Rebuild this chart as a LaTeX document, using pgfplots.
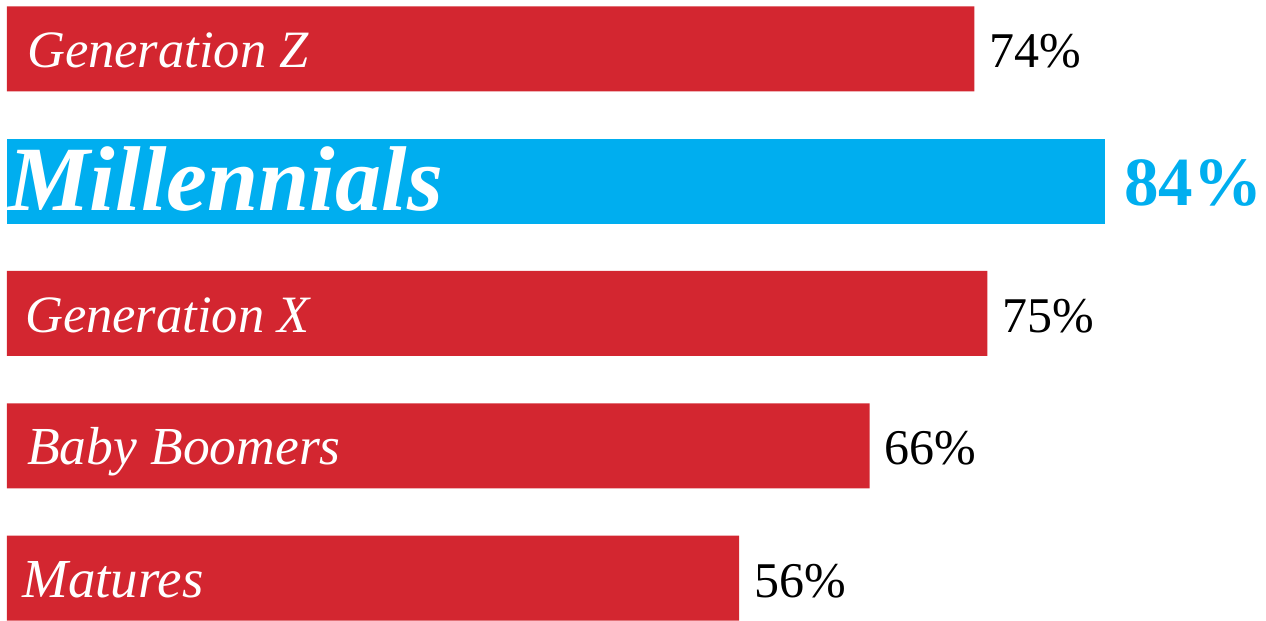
\documentclass[border=0pt]{standalone}
\usepackage{fontspec}
\setmainfont{Liberation Serif}
\usepackage{pgfplots}
\pgfplotsset{compat=1.18}
\definecolor{barred}{HTML}{D32630}
\definecolor{barblue}{HTML}{00AEEF}
\begin{document}
\begin{tikzpicture}
\begin{axis}[
  width=1266pt, height=619pt, scale only axis,
  xmin=-0.5355, xmax=96.317,
  ymin=-0.31, ymax=4.37,
  hide axis, clip=false,
  xbar, bar shift=0pt, bar width=85pt,
  /pgf/number format/assume math mode=true,
  nodes near coords={\pgfmathprintnumber{\pgfplotspointmeta}\%},
  point meta=x,
  every node near coord/.append style={anchor=base west, inner sep=0pt},
]
\path (rel axis cs:0,0) rectangle (rel axis cs:1,1);
\addplot[fill=barred, draw=none,
  every node near coord/.append style={text=black, font=\fontsize{50}{56}\selectfont, xshift=15pt, yshift=-19pt}]
  coordinates {(74,4) (75,2) (66,1) (56,0)};
\addplot[fill=barblue, draw=none,
  every node near coord/.append style={text=barblue, font=\fontsize{69}{76}\selectfont\bfseries, xshift=19pt, yshift=-24pt}]
  coordinates {(84,3)};
\begin{scope}[every node/.style={anchor=base west, inner sep=0pt, text=white}]
\node[font=\fontsize{52.5}{60}\selectfont\itshape, xshift=20pt, yshift=-19pt] at (axis cs:0,4) {Generation Z};
\node[font=\fontsize{92}{100}\selectfont\bfseries\itshape, xshift=1pt, yshift=-29pt] at (axis cs:0,3) {Millennials};
\node[font=\fontsize{52.5}{60}\selectfont\itshape, xshift=18pt, yshift=-19pt] at (axis cs:0,2) {Generation X};
\node[font=\fontsize{53.5}{60}\selectfont\itshape, xshift=20pt, yshift=-19pt] at (axis cs:0,1) {Baby Boomers};
\node[font=\fontsize{55}{60}\selectfont\itshape, xshift=15pt, yshift=-19pt] at (axis cs:0,0) {Matures};
\end{scope}
\end{axis}
\end{tikzpicture}
\end{document}
